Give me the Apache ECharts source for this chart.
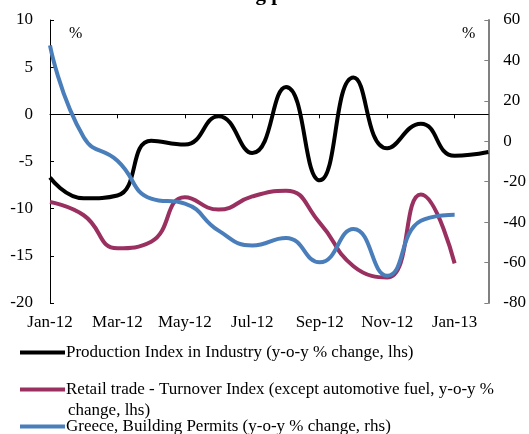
<!DOCTYPE html>
<html>
<head>
<meta charset="utf-8">
<script src="https://cdn.jsdelivr.net/npm/echarts@6/dist/echarts.min.js"></script>
<style>
html,body{margin:0;padding:0;background:#fff;}
#chart{width:529px;height:434px;}
</style>
</head>
<body>
<div id="chart"></div>
<script>
var categories = ['Jan-12','Feb-12','Mar-12','Apr-12','May-12','Jun-12','Jul-12','Aug-12','Sep-12','Oct-12','Nov-12','Dec-12','Jan-13','Feb-13'];
var production = [-6.7, -8.9, -8.6, -2.8, -3.2, -0.2, -4.1, 2.9, -7.0, 3.9, -3.6, -1.0, -4.4, -4.0];
var retail = [-9.3, -10.7, -14.2, -13.5, -8.8, -10.1, -8.7, -8.1, -11.5, -16.1, -17.3, -8.5, -15.8, null];
var permits = [47.4, 2.0, -9.6, -28.4, -30.8, -44.2, -51.5, -47.8, -59.9, -43.4, -66.5, -39.3, -36.3, null];
var leftTicks = {min: -20, max: 10, interval: 5};
var rightTicks = {min: -80, max: 60, interval: 20};
var names = [
  'Production Index in Industry (y-o-y % change, lhs)',
  'Retail trade - Turnover Index (except automotive fuel, y-o-y %',
  'Greece, Building Permits (y-o-y % change, rhs)'
];
var titleText = 'Building permits';

var FONT = 'Liberation Serif';
var chart = echarts.init(document.getElementById('chart'));
function legendAt(name, top) {
  return {
    data: [name], left: 20, top: top, padding: 0,
    icon: 'rect', itemWidth: 45, itemHeight: 4,
    textStyle: {fontFamily: FONT, fontSize: 17, color: '#000', padding: [0,0,0,-4]},
    selectedMode: false
  };
}
chart.setOption({
  animation: false,
  title: {
    text: titleText, left: 'center', top: -21,
    textStyle: {fontFamily: FONT, fontSize: 21, fontWeight: 'bold', color: '#000'}
  },
  grid: {left: 50, right: 37, top: 20, bottom: 131, containLabel: false},
  legend: [legendAt(names[0], 344), legendAt(names[1], 381), legendAt(names[2], 418)],
  graphic: [
    {type: 'text', left: 68, top: 402, style: {text: 'change, lhs)', fontFamily: FONT, fontSize: 17, fill: '#000'}},
    {type: 'text', left: 69, top: 26, style: {text: '%', fontFamily: FONT, fontSize: 16, fill: '#000'}},
    {type: 'text', left: 462, top: 26, style: {text: '%', fontFamily: FONT, fontSize: 16, fill: '#000'}}
  ],
  xAxis: [
    {
      type: 'category', data: categories, boundaryGap: false, position: 'bottom',
      axisLine: {show: true, onZero: true, onZeroAxisIndex: 0, lineStyle: {color: '#000', width: 1}},
      axisTick: {show: true, interval: 1, length: 4, lineStyle: {color: '#000'}},
      axisLabel: {show: false},
      splitLine: {show: false}
    },
    {
      type: 'category', data: categories, boundaryGap: false, position: 'bottom',
      axisLine: {show: false, onZero: false},
      axisTick: {show: false},
      axisLabel: {show: true, interval: 1, margin: 11, fontFamily: FONT, fontSize: 17, color: '#000'},
      splitLine: {show: false}
    }
  ],
  yAxis: [
    {
      type: 'value', min: leftTicks.min, max: leftTicks.max, interval: leftTicks.interval, position: 'left',
      axisLine: {show: true, onZero: false, lineStyle: {color: '#000', width: 1}},
      axisTick: {show: true, inside: true, length: 4, lineStyle: {color: '#000'}},
      axisLabel: {margin: 17, fontFamily: FONT, fontSize: 17, color: '#000'},
      splitLine: {show: false}
    },
    {
      type: 'value', min: rightTicks.min, max: rightTicks.max, interval: rightTicks.interval, position: 'right',
      axisLine: {show: true, onZero: false, lineStyle: {color: '#808080', width: 2}},
      axisTick: {show: true, inside: true, length: 4, lineStyle: {color: '#808080', width: 1}},
      axisLabel: {margin: 15, fontFamily: FONT, fontSize: 17, color: '#000'},
      splitLine: {show: false}
    }
  ],
  series: [
    {name: names[0], type: 'line', data: production, yAxisIndex: 0, smooth: true, showSymbol: false, symbol: 'none',
     lineStyle: {color: '#000000', width: 4}, itemStyle: {color: '#000000'}},
    {name: names[1], type: 'line', data: retail, yAxisIndex: 0, smooth: true, showSymbol: false, symbol: 'none',
     lineStyle: {color: '#9a3060', width: 4}, itemStyle: {color: '#9a3060'}},
    {name: names[2], type: 'line', data: permits, yAxisIndex: 1, smooth: true, showSymbol: false, symbol: 'none',
     lineStyle: {color: '#4a7ebb', width: 4}, itemStyle: {color: '#4a7ebb'}}
  ]
});
</script>
</body>
</html>
